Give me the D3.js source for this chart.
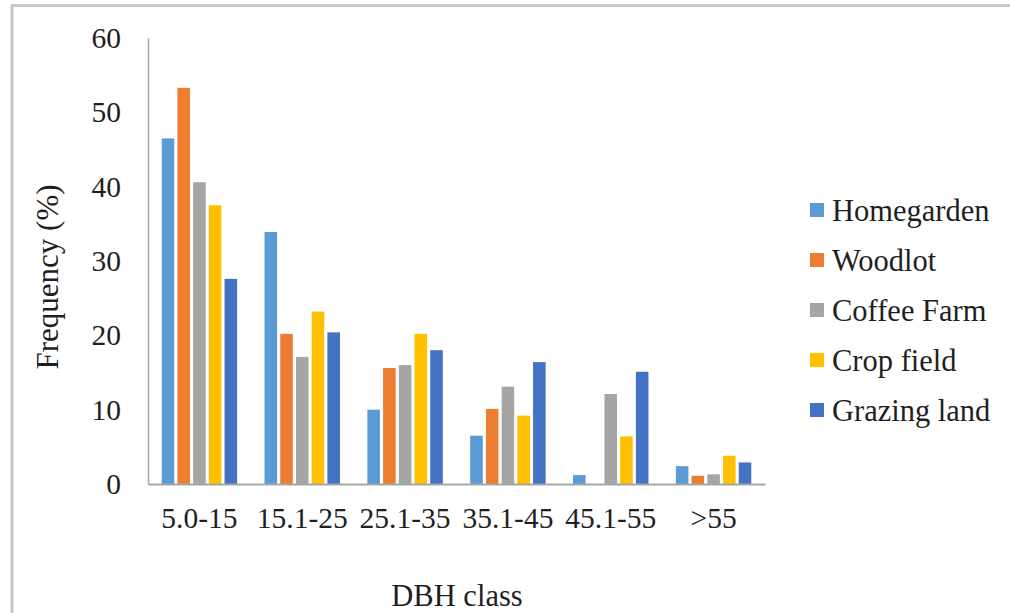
<!DOCTYPE html>
<html>
<head>
<meta charset="utf-8">
<script src="https://cdn.jsdelivr.net/npm/d3@7"></script>
<style>
  html, body { margin: 0; padding: 0; background: #fff; }
  svg text { font-family: "Liberation Serif", "Times New Roman", serif; fill: #1f1f1f; }
</style>
</head>
<body>
<svg id="chart" width="1010" height="613"></svg>
<script>
// DBH class frequency by land use type
const categories = ["5.0-15", "15.1-25", "25.1-35", "35.1-45", "45.1-55", ">55"];
const seriesNames = ["Homegarden", "Woodlot", "Coffee Farm", "Crop field", "Grazing land"];
const homegarden = [46.5, 33.9, 10.0, 6.5, 1.2, 2.4];
const woodlot    = [53.3, 20.2, 15.6, 10.1, 0.0, 1.1];
const coffeeFarm = [40.6, 17.1, 16.0, 13.1, 12.1, 1.3];
const cropField  = [37.5, 23.2, 20.2, 9.2, 6.4, 3.8];
const grazing    = [27.6, 20.4, 18.0, 16.4, 15.1, 2.9];
const yTicks = [0, 10, 20, 30, 40, 50, 60];
const colors = ["#5B9BD5", "#ED7D31", "#A5A5A5", "#FFC000", "#4472C4"];

const seriesValues = [homegarden, woodlot, coffeeFarm, cropField, grazing];

const svg = d3.select("#chart");

// outer frame
svg.append("path")
  .attr("d", "M12,614 L12,5.5 L1012,5.5")
  .attr("fill", "none")
  .attr("stroke", "#c8c8c8")
  .attr("stroke-width", 3);

const plot = { left: 148, right: 765, top: 38, bottom: 484 };

const x0 = d3.scaleBand()
  .domain(categories)
  .range([plot.left, plot.right])
  .paddingInner(0.236)
  .paddingOuter(0.118);

const x1 = d3.scaleBand()
  .domain(seriesNames)
  .range([0, x0.bandwidth()])
  .paddingInner(0.2)
  .paddingOuter(0.1);

const y = d3.scaleLinear()
  .domain([0, 60])
  .range([plot.bottom, plot.top]);

// bars
const groups = svg.append("g").selectAll("g")
  .data(categories)
  .join("g")
  .attr("transform", d => `translate(${x0(d)},0)`);

groups.selectAll("rect")
  .data((cat, i) => seriesNames.map((s, k) => ({ s, k, v: seriesValues[k][i] })))
  .join("rect")
  .attr("x", d => x1(d.s))
  .attr("width", x1.bandwidth())
  .attr("y", d => y(d.v))
  .attr("height", d => y(0) - y(d.v))
  .attr("fill", d => colors[d.k]);

// y axis
const yAxis = svg.append("g")
  .attr("transform", `translate(${plot.left},0)`)
  .call(d3.axisLeft(y).tickValues(yTicks).tickSize(0).tickPadding(27));
yAxis.select(".domain").attr("stroke", "#a6a6a6").attr("stroke-width", 1.5);
yAxis.selectAll("text").attr("font-size", 29.5).attr("fill", "#1f1f1f")
  .attr("font-family", "Liberation Serif, serif");

// x axis
const xAxis = svg.append("g")
  .attr("transform", `translate(0,${plot.bottom})`)
  .call(d3.axisBottom(x0).tickSize(0).tickPadding(23));
xAxis.select(".domain").attr("stroke", "#a6a6a6").attr("stroke-width", 2);
xAxis.selectAll("text").attr("font-size", 29.5).attr("fill", "#1f1f1f")
  .attr("font-family", "Liberation Serif, serif");

// axis titles
svg.append("text")
  .attr("transform", "translate(58,277) rotate(-90)")
  .attr("text-anchor", "middle")
  .attr("font-size", 31)
  .text("Frequency (%)");

svg.append("text")
  .attr("x", 457)
  .attr("y", 606)
  .attr("text-anchor", "middle")
  .attr("font-size", 30.5)
  .text("DBH class");

// legend
const legend = svg.append("g").selectAll("g")
  .data(seriesNames)
  .join("g")
  .attr("transform", (d, i) => `translate(810,${210 + i * 50})`);

legend.append("rect")
  .attr("x", 0).attr("y", -7)
  .attr("width", 14).attr("height", 14)
  .attr("fill", (d, i) => colors[i]);

legend.append("text")
  .attr("x", 22).attr("y", 0)
  .attr("dy", "0.35em")
  .attr("font-size", 30.5)
  .text(d => d);
</script>
</body>
</html>
